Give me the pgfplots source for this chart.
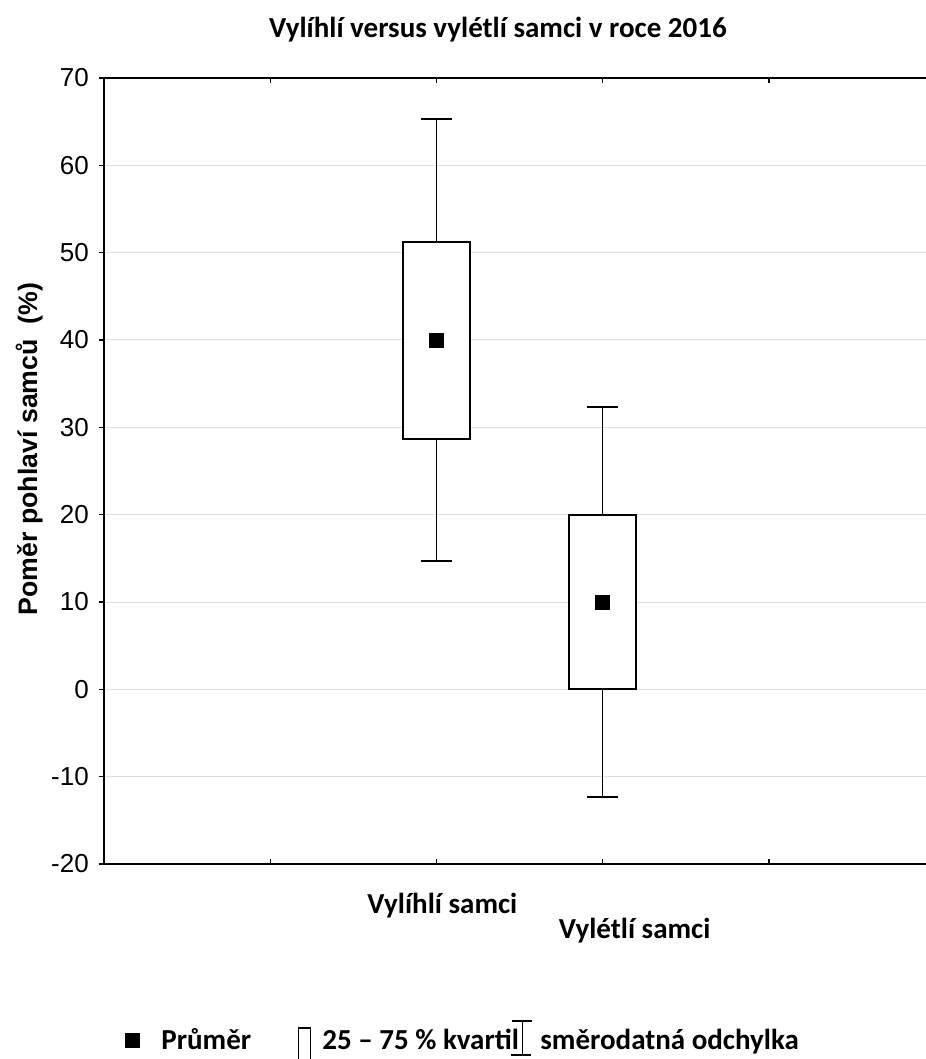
\documentclass[border=0pt]{standalone}
\usepackage{fontspec}
\setmainfont{Liberation Sans}
\newfontfamily\calfont{Carlito}
\usepackage{pgfplots}
\pgfplotsset{compat=1.18}
\usepgfplotslibrary{statistics}

\newcommand\calb{\calfont\bfseries\fontsize{29bp}{34bp}\selectfont}

\begin{document}
\begin{tikzpicture}
\begin{axis}[
  name=ax, at={(0,0)}, anchor=south west,
  scale only axis, width=831bp, height=786bp,
  xmin=0, xmax=5, ymin=-20, ymax=70,
  xtick={1,2,3,4}, ytick={-20,-10,...,70},
  xticklabels={{},{\hspace*{12bp}Vylíhlí samci},{\hspace*{64bp}\raisebox{-25bp}{Vylétlí samci}},{}},
  xtick pos=both, ytick pos=left,
  xtick align=inside, ytick align=outside,
  major tick length=5bp,
  tick style={black, line width=1.4bp},
  axis line style={line width=1.8bp},
  ymajorgrids, major grid style={draw=black!12, line width=1bp},
  /pgf/number format/assume math mode=true,
  yticklabel style={font=\fontsize{26bp}{30bp}\selectfont, inner sep=0pt, xshift=-10bp},
  xticklabel style={font=\calb, anchor=base, inner sep=0pt, yshift=-49bp},
  title={Vylíhlí versus vylétlí samci v roce 2016},
  title style={font=\calb, at={(axis description cs:0.474,1)}, anchor=base, inner sep=0pt, yshift=35bp},
  ylabel={Poměr pohlaví samců\ \ (\%)},
  every axis y label/.style={at={(axis description cs:-0.0806,0.528)}, rotate=90, anchor=base, inner sep=0pt, font=\bfseries\fontsize{26.7bp}{30bp}\selectfont},
  legend columns=3,
  legend style={draw=none, fill=none, inner sep=0pt, column sep=0pt, font=\calb,
    nodes={inner sep=0pt}, cells={anchor=west},
    at={(axis description cs:0.02527,-0.2240)}, anchor=west},
  boxplot/draw direction=y,
  boxplot/every box/.style={draw=black, line width=2.2bp, fill=white},
  boxplot/every whisker/.style={draw=black, line width=1.5bp},
  boxplot/every median/.style={draw=none},
]
% Vylihli samci
\addplot[forget plot, boxplot prepared={draw position=2, draw direction=y,
  lower whisker=14.7, lower quartile=28.7, median=40,
  upper quartile=51.2, upper whisker=65.3,
  box extend=0.4, whisker extend=0.19}] coordinates {};
% Vyletli samci
\addplot[forget plot, boxplot prepared={draw position=3, draw direction=y,
  lower whisker=-12.3, lower quartile=0, median=10,
  upper quartile=20, upper whisker=32.3,
  box extend=0.4, whisker extend=0.19}] coordinates {};
% prumer
\addplot[forget plot, only marks, mark=square*, mark size=7bp, black] coordinates {(2,40) (3,10)};

\addlegendimage{legend image code/.code={\path[draw=none, fill=none] (0bp,-7bp) rectangle (36bp,7bp); \fill[black] (0bp,-7bp) rectangle (14bp,7bp);}}
\addlegendentry{\makebox[137bp][l]{Průměr}}
\addlegendimage{legend image code/.code={\path[draw=none, fill=none] (0bp,-7bp) rectangle (24bp,7bp); \draw[overlay, fill=none, line width=1.2bp] (0bp,-40bp) rectangle (12bp,12bp);}}
\addlegendentry{\makebox[188bp][l]{25 – 75 \% kvartil}}
\addlegendimage{legend image code/.code={\path[draw=none, fill=none] (0bp,-7bp) rectangle (30bp,7bp); \draw[overlay, line width=1.4bp] (2bp,19bp) -- (22bp,19bp) (12bp,19bp) -- (12bp,-15bp) (1bp,-15bp) -- (21bp,-15bp);}}
\addlegendentry{směrodatná odchylka}
\end{axis}
\pgfresetboundingbox
\path[use as bounding box] (-104bp,-195bp) rectangle (822bp,864bp);
\end{tikzpicture}
\end{document}
